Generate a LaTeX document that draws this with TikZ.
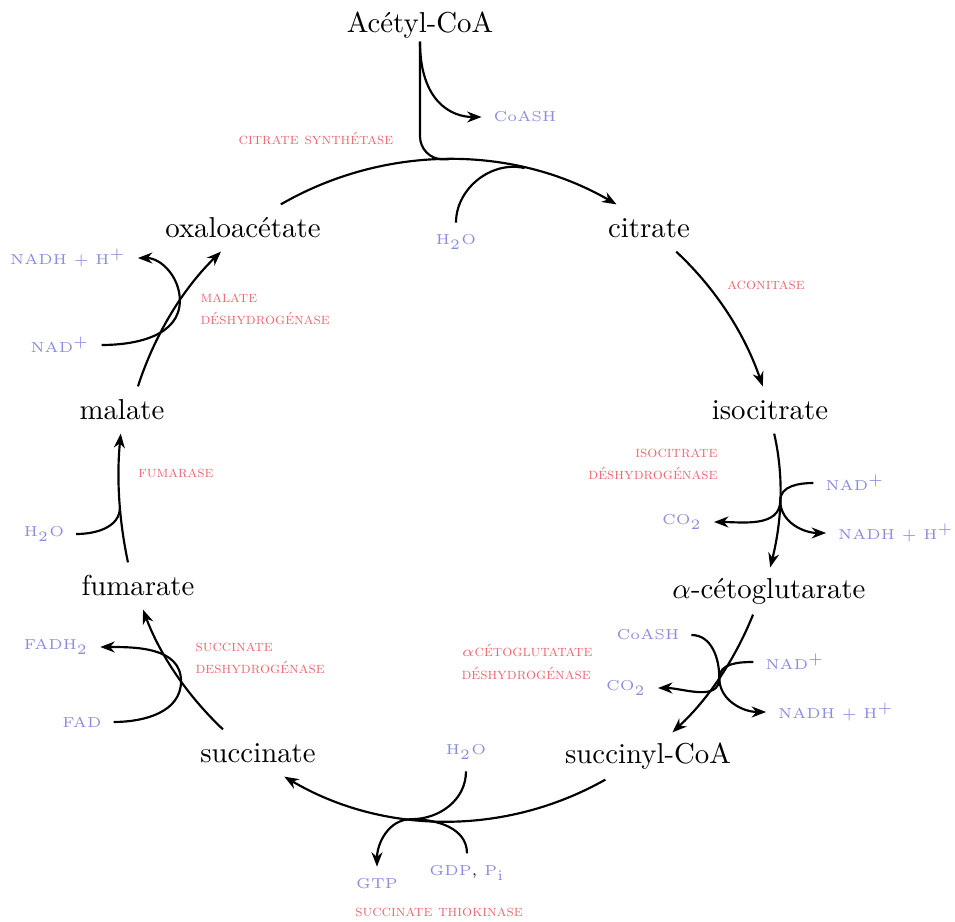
\documentclass[tikz,border=0pt]{standalone}
\usetikzlibrary{arrows.meta}
\definecolor{enz}{RGB}{236,104,112}
\definecolor{mol}{RGB}{140,140,225}
\begin{document}
\begin{tikzpicture}[x=0.3472pt,y=0.3472pt,
  >={Stealth[length=5pt,width=3.8pt,inset=1.6pt]},
  flow/.style={line width=0.75pt},
  met/.style={font=\normalsize, minimum height=16pt, inner sep=3.33pt},
  side/.style={text=mol, font=\tiny, inner sep=4pt},
  enzyme/.style={text=enz, font=\fontsize{5.5}{7.7}\selectfont\scshape, inner sep=0pt, align=left},
]
\useasboundingbox (0,0) rectangle (955,-922);

% metabolites
\node[met, minimum height=0pt, inner sep=1pt] (acetyl) at (420,-25) {Acétyl-CoA};
\node[met] (citrate) at (649,-228) {citrate};
\node[met] (isocit) at (770,-410) {isocitrate};
\node[met] (akg) at (769,-591) {$\alpha$-cétoglutarate};
\node[met] (succoa) at (648,-756) {succinyl-CoA};
\node[met] (succ) at (258,-753) {succinate};
\node[met] (fum) at (138,-586) {fumarate};
\node[met] (mal) at (122,-410) {malate};
\node[met] (oxa) at (243,-228) {oxaloacétate};

% enzymes
\node[enzyme] (csyn) at (316,-138) {citrate synthétase};
\node[enzyme] (acon) at (766,-285) {aconitase};
\node[enzyme, align=right, anchor=east] (icdh) at (718,-464) {isocitrate\\déshydrogénase};
\node[enzyme] (akgdh) at (527,-662) {$\alpha$cétoglutatate\\déshydrogénase};
\node[enzyme] (sthk) at (439,-912) {succinate thiokinase};
\node[enzyme, anchor=west] (sdh) at (195,-658) {succinate\\deshydrogénase};
\node[enzyme] (fumase) at (176,-473) {fumarase};
\node[enzyme, anchor=west] (mdh) at (200,-309) {malate\\déshydrogénase};

% cofactors
\node[side] (coashA) at (525,-117) {CoASH};
\node[side] (h2oA) at (456,-242) {H$_2$O};
\node[side] (nadA) at (855,-483) {NAD$^+$};
\node[side] (co2A) at (682,-522) {CO$_2$};
\node[side] (nadhA) at (896,-533) {NADH + H$^+$};
\node[side] (coashB) at (648,-635) {CoASH};
\node[side] (nadB) at (795,-662) {NAD$^+$};
\node[side] (co2B) at (626,-688) {CO$_2$};
\node[side] (nadhB) at (836,-712) {NADH + H$^+$};
\node[side] (h2oB) at (466,-752) {H$_2$O};
\node[side] (gtp) at (377,-884) {GTP};
\node[side] (gdp) at (467,-873) {GDP{\color{black},} P$_\mathrm{i}$};
\node[side] (fadh) at (56,-647) {FADH$_2$};
\node[side] (fad) at (82,-722) {FAD};
\node[side] (h2oC) at (44,-534) {H$_2$O};
\node[side] (nadhC) at (68,-258) {NADH + H$^+$};
\node[side] (nadC) at (60,-345) {NAD$^+$};

% main cycle
\draw[flow,->] (oxa.32) .. controls +(30:120) and +(150:120) .. (citrate.144)
  coordinate[pos=0.5] (j1) coordinate[pos=0.72] (j1b);
\draw[flow,->] (citrate.-41) .. controls +(-43:55) and +(109:55) .. (isocit.107);
\draw[flow,->] (isocit.-80) .. controls +(-77:46) and +(76:46) .. (akg.87)
  coordinate[pos=0.5] (j3);
\draw[flow,->] (akg.-124) .. controls +(-112:49) and +(43:49) .. (succoa.44)
  coordinate[pos=0.5] (j4);
\draw[flow,->] (succoa.-151) .. controls +(209.5:115) and +(-30.5:115) .. (succ.-42)
  coordinate[pos=0.6] (j5);
\draw[flow,->] (succ.146) .. controls +(136.6:49) and +(-69.4:49) .. (fum.-78)
  coordinate[pos=0.44] (j6);
\draw[flow,->] (fum.113) .. controls +(102:44) and +(-95.5:44) .. (mal.-93)
  coordinate[pos=0.43] (j7);
\draw[flow,->] (mal.56) .. controls +(72:54) and +(-135.7:54) .. (oxa.-133)
  coordinate[pos=0.6] (j8);

% side reactions
\draw[flow,rounded corners=8pt] (acetyl.south) |- (j1);
\draw[flow,->] (acetyl.south) .. controls +(0,-60) and +(-30,0) .. (coashA.west);
\draw[flow] (h2oA.north) to[out=90,in=167] (j1b);

\draw[flow,->] (nadA.west) to[out=180,in=90] (j3) to[out=-90,in=180] (nadhA.west);
\draw[flow,->] (j3) to[out=-90,in=0] (co2A.east);

\draw[flow,->] (coashB.east) to[out=0,in=90] (j4) to[out=-90,in=0] (co2B.east);
\draw[flow,->] (nadB.west) to[out=180,in=90] (j4) to[out=-90,in=180] (nadhB.west);

\draw[flow] (h2oB.south) to[out=-90,in=0] (j5);
\draw[flow,->] (gdp.north) to[out=90,in=0] (j5) to[out=180,in=90] (gtp.north);

\draw[flow,->] (fad.east) to[out=0,in=-90] (j6) to[out=90,in=0] (fadh.east);

\draw[flow] (h2oC.east) to[out=0,in=-90] (j7);

\draw[flow,->] (nadC.east) to[out=0,in=-90] (j8) to[out=90,in=0] (nadhC.east);
\end{tikzpicture}
\end{document}
